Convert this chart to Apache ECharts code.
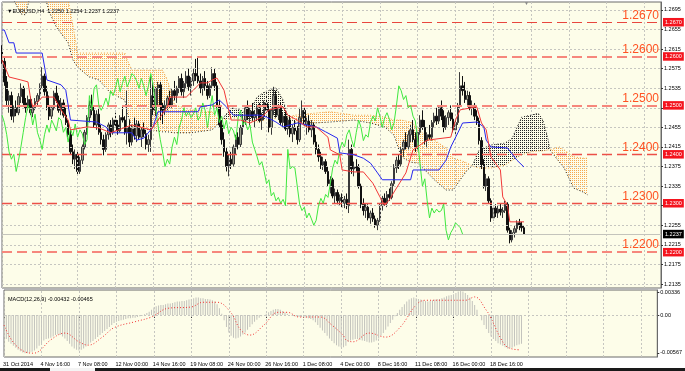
<!DOCTYPE html>
<html><head><meta charset="utf-8">
<script src="https://cdn.jsdelivr.net/npm/echarts@6/dist/echarts.min.js"></script>
<style>html,body{margin:0;padding:0;background:#fff}#c{width:685px;height:371px}</style>
</head><body><div id="c"></div>
<script>
const headerText = '▼EURUSD,H4  1.2250 1.2254 1.2237 1.2237';
const macdText = 'MACD(12,26,9) -0.00432 -0.00465';
const dateLabels = ['31 Oct 2014','4 Nov 16:00','7 Nov 08:00','12 Nov 00:00','14 Nov 16:00','19 Nov 08:00','24 Nov 00:00','26 Nov 16:00','1 Dec 08:00','4 Dec 00:00','8 Dec 16:00','11 Dec 08:00','16 Dec 00:00','18 Dec 16:00'];
const priceTicks = [1.2135,1.2175,1.2215,1.2255,1.2295,1.2335,1.2375,1.2415,1.2455,1.2495,1.2535,1.2575,1.2615,1.2655,1.2695];
const levels = [1.2670,1.2600,1.2500,1.2400,1.2300,1.2200];
const lastPrice = 1.2237;
const macdTicks = [-0.00567,0,0.00336];

const opens = [1.2610,1.2590,1.2548,1.2510,1.2520,1.2478,1.2495,1.2485,1.2518,1.2535,
1.2505,1.2495,1.2512,1.2485,1.2495,1.2508,1.2520,1.2540,1.2560,1.2528,
1.2500,1.2478,1.2495,1.2525,1.2510,1.2490,1.2505,1.2480,1.2465,1.2440,
1.2405,1.2390,1.2400,1.2365,1.2388,1.2415,1.2445,1.2475,1.2500,1.2490,
1.2460,1.2482,1.2445,1.2430,1.2410,1.2440,1.2460,1.2445,1.2470,1.2460,
1.2448,1.2475,1.2470,1.2445,1.2455,1.2425,1.2452,1.2438,1.2462,1.2435,
1.2450,1.2442,1.2420,1.2430,1.2520,1.2490,1.2535,1.2542,1.2500,1.2490,
1.2500,1.2515,1.2500,1.2530,1.2520,1.2535,1.2555,1.2528,1.2545,1.2560,
1.2538,1.2550,1.2565,1.2560,1.2550,1.2535,1.2555,1.2540,1.2520,1.2540,
1.2565,1.2540,1.2500,1.2460,1.2430,1.2405,1.2375,1.2390,1.2380,1.2415,
1.2435,1.2420,1.2455,1.2470,1.2495,1.2478,1.2488,1.2475,1.2482,1.2495,
1.2470,1.2478,1.2505,1.2490,1.2455,1.2490,1.2520,1.2480,1.2495,1.2465,
1.2478,1.2452,1.2470,1.2442,1.2455,1.2448,1.2430,1.2475,1.2490,1.2460,
1.2468,1.2450,1.2460,1.2425,1.2410,1.2395,1.2378,1.2385,1.2365,1.2340,
1.2348,1.2315,1.2322,1.2305,1.2312,1.2300,1.2308,1.2295,1.2410,1.2370,
1.2375,1.2372,1.2335,1.2298,1.2285,1.2292,1.2270,1.2280,1.2268,1.2255,
1.2265,1.2295,1.2310,1.2300,1.2318,1.2312,1.2340,1.2372,1.2388,1.2380,
1.2410,1.2425,1.2415,1.2440,1.2450,1.2430,1.2415,1.2445,1.2470,1.2455,
1.2428,1.2440,1.2435,1.2465,1.2478,1.2468,1.2495,1.2478,1.2455,1.2475,
1.2485,1.2472,1.2450,1.2465,1.2500,1.2540,1.2530,1.2512,1.2520,1.2495,
1.2500,1.2478,1.2468,1.2428,1.2380,1.2335,1.2350,1.2305,1.2270,1.2290,
1.2280,1.2288,1.2282,1.2285,1.2298,1.2245,1.2225,1.2240,1.2248,1.2260,
1.2255,1.2250];
const closes = [1.2590,1.2548,1.2510,1.2520,1.2478,1.2495,1.2485,1.2518,1.2535,1.2505,
1.2495,1.2512,1.2485,1.2495,1.2508,1.2520,1.2540,1.2560,1.2528,1.2500,
1.2478,1.2495,1.2525,1.2510,1.2490,1.2505,1.2480,1.2465,1.2440,1.2405,
1.2390,1.2400,1.2365,1.2388,1.2415,1.2445,1.2475,1.2500,1.2490,1.2460,
1.2482,1.2445,1.2430,1.2410,1.2440,1.2460,1.2445,1.2470,1.2460,1.2448,
1.2475,1.2470,1.2445,1.2455,1.2425,1.2452,1.2438,1.2462,1.2435,1.2450,
1.2442,1.2420,1.2430,1.2520,1.2490,1.2535,1.2542,1.2500,1.2490,1.2500,
1.2515,1.2500,1.2530,1.2520,1.2535,1.2555,1.2528,1.2545,1.2560,1.2538,
1.2550,1.2565,1.2560,1.2550,1.2535,1.2555,1.2540,1.2520,1.2540,1.2565,
1.2540,1.2500,1.2460,1.2430,1.2405,1.2375,1.2390,1.2380,1.2415,1.2435,
1.2420,1.2455,1.2470,1.2495,1.2478,1.2488,1.2475,1.2482,1.2495,1.2470,
1.2478,1.2505,1.2490,1.2455,1.2490,1.2520,1.2480,1.2495,1.2465,1.2478,
1.2452,1.2470,1.2442,1.2455,1.2448,1.2430,1.2475,1.2490,1.2460,1.2468,
1.2450,1.2460,1.2425,1.2410,1.2395,1.2378,1.2385,1.2365,1.2340,1.2348,
1.2315,1.2322,1.2305,1.2312,1.2300,1.2308,1.2295,1.2410,1.2370,1.2375,
1.2372,1.2335,1.2298,1.2285,1.2292,1.2270,1.2280,1.2268,1.2255,1.2265,
1.2295,1.2310,1.2300,1.2318,1.2312,1.2340,1.2372,1.2388,1.2380,1.2410,
1.2425,1.2415,1.2440,1.2450,1.2430,1.2415,1.2445,1.2470,1.2455,1.2428,
1.2440,1.2435,1.2465,1.2478,1.2468,1.2495,1.2478,1.2455,1.2475,1.2485,
1.2472,1.2450,1.2465,1.2500,1.2540,1.2530,1.2512,1.2520,1.2495,1.2500,
1.2478,1.2468,1.2428,1.2380,1.2335,1.2350,1.2305,1.2270,1.2290,1.2280,
1.2288,1.2282,1.2285,1.2298,1.2245,1.2225,1.2240,1.2248,1.2260,1.2255,
1.2250,1.2237];
const highs = [1.2623,1.2600,1.2560,1.2530,1.2528,1.2500,1.2510,1.2525,1.2545,1.2540,
1.2515,1.2520,1.2518,1.2500,1.2515,1.2525,1.2545,1.2578,1.2565,1.2540,
1.2520,1.2500,1.2530,1.2540,1.2520,1.2515,1.2512,1.2495,1.2470,1.2450,
1.2420,1.2410,1.2405,1.2395,1.2420,1.2450,1.2480,1.2510,1.2522,1.2500,
1.2490,1.2495,1.2460,1.2440,1.2445,1.2465,1.2470,1.2475,1.2485,1.2470,
1.2480,1.2500,1.2478,1.2530,1.2470,1.2460,1.2475,1.2470,1.2468,1.2455,
1.2465,1.2450,1.2440,1.2560,1.2548,1.2538,1.2548,1.2548,1.2505,1.2510,
1.2520,1.2530,1.2535,1.2550,1.2540,1.2560,1.2565,1.2550,1.2570,1.2575,
1.2558,1.2575,1.2595,1.2597,1.2565,1.2560,1.2570,1.2550,1.2545,1.2578,
1.2575,1.2548,1.2510,1.2470,1.2445,1.2415,1.2400,1.2405,1.2420,1.2440,
1.2445,1.2460,1.2480,1.2500,1.2510,1.2495,1.2505,1.2490,1.2500,1.2505,
1.2485,1.2510,1.2525,1.2500,1.2495,1.2538,1.2530,1.2500,1.2505,1.2485,
1.2490,1.2475,1.2480,1.2460,1.2470,1.2458,1.2495,1.2510,1.2498,1.2475,
1.2480,1.2470,1.2465,1.2440,1.2420,1.2405,1.2395,1.2390,1.2375,1.2355,
1.2352,1.2330,1.2328,1.2318,1.2320,1.2315,1.2320,1.2430,1.2420,1.2385,
1.2390,1.2380,1.2340,1.2310,1.2300,1.2298,1.2285,1.2290,1.2275,1.2270,
1.2300,1.2315,1.2320,1.2325,1.2330,1.2345,1.2380,1.2395,1.2400,1.2415,
1.2430,1.2445,1.2448,1.2460,1.2470,1.2445,1.2450,1.2480,1.2490,1.2470,
1.2445,1.2460,1.2470,1.2485,1.2495,1.2500,1.2510,1.2490,1.2480,1.2490,
1.2500,1.2485,1.2470,1.2505,1.2568,1.2560,1.2548,1.2530,1.2528,1.2510,
1.2505,1.2490,1.2475,1.2435,1.2390,1.2360,1.2355,1.2310,1.2295,1.2298,
1.2295,1.2300,1.2292,1.2305,1.2302,1.2250,1.2245,1.2255,1.2265,1.2268,
1.2262,1.2254];
const lows = [1.2585,1.2540,1.2500,1.2485,1.2470,1.2465,1.2478,1.2480,1.2505,1.2500,
1.2485,1.2490,1.2480,1.2476,1.2490,1.2500,1.2512,1.2535,1.2520,1.2490,
1.2470,1.2472,1.2490,1.2505,1.2485,1.2480,1.2475,1.2460,1.2435,1.2400,
1.2380,1.2370,1.2358,1.2360,1.2380,1.2410,1.2440,1.2465,1.2480,1.2455,
1.2450,1.2440,1.2420,1.2398,1.2405,1.2430,1.2435,1.2440,1.2455,1.2440,
1.2445,1.2465,1.2440,1.2420,1.2415,1.2418,1.2430,1.2425,1.2430,1.2415,
1.2435,1.2410,1.2405,1.2405,1.2480,1.2478,1.2500,1.2470,1.2462,1.2480,
1.2490,1.2495,1.2495,1.2510,1.2505,1.2525,1.2520,1.2515,1.2535,1.2530,
1.2520,1.2540,1.2550,1.2545,1.2525,1.2520,1.2530,1.2512,1.2515,1.2535,
1.2530,1.2495,1.2455,1.2420,1.2395,1.2365,1.2355,1.2370,1.2375,1.2400,
1.2410,1.2415,1.2440,1.2460,1.2470,1.2460,1.2470,1.2455,1.2470,1.2465,
1.2450,1.2470,1.2485,1.2445,1.2440,1.2480,1.2475,1.2470,1.2460,1.2455,
1.2448,1.2440,1.2435,1.2425,1.2440,1.2420,1.2425,1.2465,1.2455,1.2440,
1.2445,1.2435,1.2420,1.2400,1.2385,1.2370,1.2368,1.2360,1.2335,1.2320,
1.2310,1.2300,1.2298,1.2295,1.2292,1.2290,1.2288,1.2280,1.2360,1.2355,
1.2365,1.2330,1.2290,1.2275,1.2270,1.2265,1.2258,1.2262,1.2250,1.2245,
1.2262,1.2285,1.2295,1.2292,1.2305,1.2308,1.2335,1.2362,1.2370,1.2375,
1.2395,1.2410,1.2410,1.2425,1.2425,1.2405,1.2410,1.2440,1.2450,1.2420,
1.2415,1.2430,1.2428,1.2455,1.2460,1.2462,1.2470,1.2445,1.2450,1.2460,
1.2468,1.2445,1.2440,1.2460,1.2495,1.2520,1.2505,1.2500,1.2490,1.2480,
1.2470,1.2460,1.2420,1.2370,1.2330,1.2325,1.2300,1.2262,1.2265,1.2272,
1.2270,1.2275,1.2270,1.2280,1.2240,1.2218,1.2220,1.2230,1.2240,1.2245,
1.2242,1.2237];

// Ichimoku lines: [bar index, price]
const tenkan = [[0,1.2593],[3,1.2558],[8,1.2552],[11,1.2548],[12,1.2517],[13,1.2497],[16,1.2511],[17,1.2517],[22,1.2517],[25,1.2491],[28,1.2470],[29,1.2450],[36,1.2456],[41,1.2454],[46,1.2444],[55,1.2460],[63,1.2450],[67,1.2476],[70,1.2497],[71,1.2517],[78,1.2517],[81,1.2531],[84,1.2546],[87,1.2546],[89,1.2552],[91,1.2556],[94,1.2531],[97,1.2470],[101,1.2470],[105,1.2464],[110,1.2476],[113,1.2491],[119,1.2497],[121,1.2480],[125,1.2470],[129,1.2456],[133,1.2456],[138,1.2435],[139,1.2409],[143,1.2399],[144,1.2368],[149,1.2364],[153,1.2364],[157,1.2341],[160,1.2313],[162,1.2296],[164,1.2307],[166,1.2323],[171,1.2362],[174,1.2409],[180,1.2429],[190,1.2435],[192,1.2470],[194,1.2491],[201,1.2497],[203,1.2464],[205,1.2450],[207,1.2395],[211,1.2368],[212,1.2313],[214,1.2296],[215,1.2262],[221,1.2262]];
const kijun = [[0,1.2654],[1,1.2654],[3,1.2628],[5,1.2628],[6,1.2607],[17,1.2607],[19,1.2552],[25,1.2542],[27,1.2531],[29,1.2470],[40,1.2466],[44,1.2456],[46,1.2444],[55,1.2444],[57,1.2429],[60,1.2433],[64,1.2456],[66,1.2487],[83,1.2487],[84,1.2497],[89,1.2501],[92,1.2511],[95,1.2497],[98,1.2480],[109,1.2480],[112,1.2476],[116,1.2466],[119,1.2456],[125,1.2464],[133,1.2456],[137,1.2446],[142,1.2433],[143,1.2403],[149,1.2399],[153,1.2392],[156,1.2382],[159,1.2362],[161,1.2348],[173,1.2348],[174,1.2368],[185,1.2368],[188,1.2388],[190,1.2415],[193,1.2444],[195,1.2464],[201,1.2466],[204,1.2456],[205,1.2429],[207,1.2415],[214,1.2413],[218,1.2388],[221,1.2374]];
const chikou = [1.2480,1.2465,1.2440,1.2405,1.2390,1.2400,1.2365,1.2388,1.2415,1.2445,1.2475,1.2500,1.2490,1.2460,1.2482,1.2445,1.2430,1.2410,1.2440,1.2460,1.2445,1.2470,1.2460,1.2448,1.2475,1.2470,1.2445,1.2455,1.2425,1.2452,1.2438,1.2462,1.2435,1.2450,1.2442,1.2420,1.2430,1.2520,1.2490,1.2535,1.2542,1.2500,1.2490,1.2500,1.2515,1.2500,1.2530,1.2520,1.2535,1.2555,1.2528,1.2545,1.2560,1.2538,1.2550,1.2565,1.2560,1.2550,1.2535,1.2555,1.2540,1.2520,1.2540,1.2565,1.2540,1.2500,1.2460,1.2430,1.2405,1.2375,1.2390,1.2380,1.2415,1.2435,1.2420,1.2455,1.2470,1.2495,1.2478,1.2488,1.2475,1.2482,1.2495,1.2470,1.2478,1.2505,1.2490,1.2455,1.2490,1.2520,1.2480,1.2495,1.2465,1.2478,1.2452,1.2470,1.2442,1.2455,1.2448,1.2430,1.2475,1.2490,1.2460,1.2468,1.2450,1.2460,1.2425,1.2410,1.2395,1.2378,1.2385,1.2365,1.2340,1.2348,1.2315,1.2322,1.2305,1.2312,1.2300,1.2308,1.2295,1.2410,1.2370,1.2375,1.2372,1.2335,1.2298,1.2285,1.2292,1.2270,1.2280,1.2268,1.2255,1.2265,1.2295,1.2310,1.2300,1.2318,1.2312,1.2340,1.2372,1.2388,1.2380,1.2410,1.2425,1.2415,1.2440,1.2450,1.2430,1.2415,1.2445,1.2470,1.2455,1.2428,1.2440,1.2435,1.2465,1.2478,1.2468,1.2495,1.2478,1.2455,1.2475,1.2485,1.2472,1.2450,1.2465,1.2500,1.2540,1.2530,1.2512,1.2520,1.2495,1.2500,1.2478,1.2468,1.2428,1.2380,1.2335,1.2350,1.2305,1.2270,1.2290,1.2280,1.2288,1.2282,1.2285,1.2298,1.2245,1.2225,1.2240,1.2248,1.2260,1.2255,1.2250,1.2237];
const cloudIdx = [0,5,8,10,12,18,20,23,28,30,32,37,41,46,52,53,55,68,70,73,80,89,91,93,97,101,104,108,111,116,119,121,124,132,139,149,156,162,166,169,173,176,179,183,188,191,194,197,199,202,207,213,216,220,224,227,229,231,232,236,238,242,246,248];
const senkouA = [1.2797,1.2777,1.2777,1.2777,1.2777,1.2777,1.2767,1.2756,1.2715,1.2664,1.2607,1.2607,1.2607,1.2607,1.2607,1.2593,1.2572,1.2572,1.2552,1.2501,1.2491,1.2487,1.2474,1.2470,1.2474,1.2474,1.2470,1.2466,1.2470,1.2474,1.2476,1.2476,1.2480,1.2484,1.2487,1.2480,1.2480,1.2476,1.2470,1.2470,1.2466,1.2454,1.2439,1.2429,1.2413,1.2392,1.2388,1.2382,1.2376,1.2372,1.2372,1.2378,1.2388,1.2399,1.2405,1.2407,1.2407,1.2409,1.2409,1.2415,1.2409,1.2395,1.2392,1.2392];
const senkouB = [1.2756,1.2715,1.2687,1.2685,1.2726,1.2726,1.2691,1.2660,1.2628,1.2593,1.2578,1.2558,1.2552,1.2525,1.2511,1.2484,1.2456,1.2446,1.2446,1.2444,1.2444,1.2450,1.2460,1.2470,1.2495,1.2491,1.2480,1.2517,1.2527,1.2536,1.2511,1.2476,1.2466,1.2464,1.2466,1.2470,1.2464,1.2456,1.2439,1.2395,1.2384,1.2382,1.2368,1.2348,1.2327,1.2327,1.2348,1.2368,1.2376,1.2409,1.2419,1.2423,1.2433,1.2476,1.2480,1.2484,1.2470,1.2435,1.2409,1.2384,1.2372,1.2331,1.2323,1.2317];

const macdHist = [-0.0032,-0.0036,-0.0040,
-0.0043,-0.0046,-0.0049,-0.0052,-0.0054,
-0.0056,-0.0057,-0.0057,-0.0056,-0.0055,-0.0053,-0.0050,
-0.0046,-0.0042,-0.0038,-0.0036,-0.0035,-0.0034,
-0.0032,-0.0030,-0.0029,-0.0030,-0.0032,-0.0035,
-0.0039,-0.0043,-0.0047,-0.0050,-0.0052,-0.0053,-0.0052,
-0.0050,-0.0047,-0.0044,-0.0041,-0.0039,-0.0036,-0.0033,-0.0030,
-0.0027,-0.0024,-0.0021,-0.0018,-0.0015,-0.0012,-0.0010,-0.0009,-0.0008,
-0.0007,-0.0006,-0.0005,-0.0005,-0.0004,-0.0004,-0.0003,-0.0002,
-0.0001,0.0001,0.0003,0.0005,0.0008,0.0011,
0.0013,0.0014,0.0015,0.0015,0.0016,0.0017,0.0017,0.0018,0.0019,
0.0020,0.0020,0.0021,0.0021,0.0022,0.0023,
0.0024,0.0025,0.0026,0.0026,0.0025,0.0025,0.0024,
0.0024,0.0023,0.0022,0.0020,0.0016,0.0010,
0.0002,-0.0008,-0.0018,-0.0026,
-0.0031,-0.0034,-0.0035,-0.0034,-0.0032,-0.0029,-0.0026,
-0.0022,-0.0018,-0.0014,-0.0010,
-0.0007,-0.0004,-0.0002,0.0000,0.0002,0.0004,
0.0006,0.0008,0.0009,0.0009,0.0008,0.0006,0.0004,
0.0002,0.0000,-0.0001,-0.0002,-0.0002,-0.0003,
-0.0003,-0.0004,-0.0004,-0.0005,-0.0006,-0.0008,-0.0011,-0.0015,
-0.0019,-0.0023,-0.0027,-0.0031,-0.0035,-0.0039,-0.0042,-0.0045,-0.0047,
-0.0048,-0.0048,-0.0046,-0.0040,-0.0038,-0.0037,
-0.0036,-0.0036,-0.0037,-0.0038,-0.0039,-0.0040,-0.0041,-0.0041,-0.0040,-0.0038,-0.0035,-0.0031,-0.0027,
-0.0022,-0.0017,-0.0012,-0.0007,
-0.0002,0.0003,0.0008,0.0012,
0.0016,0.0020,0.0023,0.0025,0.0026,0.0025,
0.0024,0.0023,0.0022,0.0021,0.0020,0.0021,0.0022,0.0023,0.0024,0.0024,0.0025,0.0026,0.0028,0.0029,0.0030,
0.0031,0.0033,0.0035,0.0036,0.0035,0.0033,0.0030,0.0026,0.0021,
0.0015,0.0008,0.0000,-0.0008,
-0.0015,-0.0021,-0.0027,-0.0032,-0.0036,-0.0039,
-0.0042,-0.0044,-0.0046,-0.0048,-0.0050,-0.0050,-0.0049,-0.0047,-0.0045,
-0.0044,-0.0043];
const macdSignal = [[0,-0.0015],[5,-0.0045],[12,-0.0057],[14,-0.0056],[20,-0.0037],[26,-0.0027],[32,-0.0040],[36,-0.0045],[42,-0.0033],[47,-0.0019],[56,-0.0010],[63,-0.0003],[70,0.0010],[80,0.0012],[85,0.0019],[91,0.0019],[97,0.0003],[101,-0.0022],[105,-0.0030],[111,-0.0015],[117,0.0004],[121,0.0004],[126,-0.0003],[135,-0.0003],[140,-0.0015],[145,-0.0031],[146,-0.0037],[149,-0.0040],[156,-0.0027],[163,-0.0033],[169,-0.0019],[176,0.0015],[180,0.0022],[197,0.0022],[201,0.0027],[206,0.0007],[208,-0.0005],[212,-0.0034],[215,-0.0048],[220,-0.0052]];

// ---------- build ----------
const NCAT = 280;
const cats = Array.from({length: NCAT}, (_, i) => i);
const vGrid = Array.from({length: 18}, (_, k) => k * 16);
const labelFont = 'Liberation Sans';
function dotPattern(color) {
  const c = document.createElement('canvas');
  c.width = 2; c.height = 2;
  const g = c.getContext('2d');
  g.fillStyle = color;
  g.fillRect(0, 0, 1, 1);
  return c;
}
const orangeFill = {image: dotPattern('#f7a850'), repeat: 'repeat'};
const blackFill = {image: dotPattern('#222222'), repeat: 'repeat'};

const levelStyle = {
  '1.2670': {color: '#e8463e', width: 1, type: [10, 5]},
  '1.2600': {color: '#f6877c', width: 2, type: [10, 5]},
  '1.2500': {color: '#f6877c', width: 2, type: [10, 5]},
  '1.2400': {color: '#ec5048', width: 1.3, type: [10, 5]},
  '1.2300': {color: '#ec5048', width: 1.3, type: [10, 5]},
  '1.2200': {color: '#f6877c', width: 2, type: [10, 5]}
};
const levelMarks = [];
levels.forEach(v => {
  const key = v.toFixed(4);
  levelMarks.push({yAxis: v, lineStyle: levelStyle[key], label: {show: true, position: 'insideEndTop', formatter: key, color: '#ff5222', fontSize: 12, fontFamily: labelFont, distance: [2, 1]}});
});
levelMarks.push({yAxis: lastPrice, lineStyle: {color: '#c4c4bc', width: 1, type: 'solid'}, label: {show: true, position: 'end', formatter: lastPrice.toFixed(4), color: '#fff', backgroundColor: '#000', fontSize: 5.5, fontFamily: labelFont, padding: [1.5, 2, 1, 2], distance: 2}});
const boxMarks = levels.map(v => ({yAxis: v, label: {show: true, position: 'end', formatter: v.toFixed(4), color: '#fff', backgroundColor: '#f4141e', fontSize: 5.5, fontFamily: labelFont, padding: [1.5, 2, 1, 2], distance: 2}}));

const gridMarks = priceTicks.map(v => ({yAxis: v})).concat(vGrid.map(x => ({xAxis: x})));
const macdGridMarks = [{yAxis: 0}].concat(vGrid.map(x => ({xAxis: x})));

const chart = echarts.init(document.getElementById('c'), null, {renderer: 'canvas'});
const labelInterval = (idx) => idx % 16 === 0 && idx / 16 < dateLabels.length;

chart.setOption({
  animation: false,
  backgroundColor: '#ffffff',
  title: [
    {text: headerText, left: 2, top: 3, textStyle: {fontSize: 5.5, fontWeight: 'normal', color: '#000', fontFamily: labelFont}},
    {text: macdText, left: 3, top: 291, textStyle: {fontSize: 5.5, fontWeight: 'normal', color: '#000', fontFamily: labelFont}}
  ],
  grid: [
    {left: 2, right: 24, top: 2, height: 286, show: true, backgroundColor: '#fdfde9', borderColor: '#6a6a6a', borderWidth: 1},
    {left: 2, right: 24, top: 290, height: 67, show: true, backgroundColor: '#fdfde9', borderColor: '#6a6a6a', borderWidth: 1}
  ],
  xAxis: [
    {type: 'category', gridIndex: 0, data: cats, boundaryGap: false, axisLine: {show: false}, axisTick: {show: false}, axisLabel: {show: false}, splitLine: {show: false}},
    {type: 'category', gridIndex: 1, data: cats, boundaryGap: false, axisLine: {show: false},
     axisTick: {show: true, interval: labelInterval, length: 3, lineStyle: {color: '#333'}},
     axisLabel: {show: true, interval: labelInterval, formatter: (v, i) => dateLabels[i / 16] || '', fontSize: 5.5, fontFamily: labelFont, color: '#000', align: 'left', margin: 4, padding: [0, 0, 0, -1]},
     splitLine: {show: false}}
  ],
  yAxis: [
    {type: 'value', gridIndex: 0, position: 'right', min: 1.21268, max: 1.27113,
     axisLine: {show: true, lineStyle: {color: '#6a6a6a'}},
     axisTick: {show: true, length: 2, customValues: priceTicks, lineStyle: {color: '#333'}},
     axisLabel: {show: true, customValues: priceTicks, formatter: v => v.toFixed(4), fontSize: 5.5, fontFamily: labelFont, color: '#000', margin: 3},
     splitLine: {show: false}},
    {type: 'value', gridIndex: 1, position: 'right', min: -0.00627, max: 0.00373,
     axisLine: {show: true, lineStyle: {color: '#6a6a6a'}},
     axisTick: {show: true, length: 2, customValues: macdTicks, lineStyle: {color: '#333'}},
     axisLabel: {show: true, customValues: macdTicks, formatter: v => (v === 0 ? '0.00' : v.toFixed(5)), fontSize: 5.5, fontFamily: labelFont, color: '#000', margin: 3},
     splitLine: {show: false}}
  ],
  series: [
    {name: 'grid', type: 'line', xAxisIndex: 0, yAxisIndex: 0, data: [], silent: true, z: 1,
     markLine: {silent: true, precision: 6, symbol: ['none', 'none'], animation: false, label: {show: false},
       lineStyle: {color: '#c6c6c0', type: [2, 2], width: 1}, data: gridMarks}},
    {name: 'kumo', type: 'custom', xAxisIndex: 0, yAxisIndex: 0, clip: true, silent: true, z: 2,
     data: cloudIdx.map((x, k) => [x, senkouA[k], senkouB[k]]),
     encode: {x: 0, y: [1, 2]},
     renderItem: (params, api) => {
       const k = params.dataIndex;
       if (k >= cloudIdx.length - 1) return null;
       const a0 = api.coord([cloudIdx[k], senkouA[k]]), a1 = api.coord([cloudIdx[k + 1], senkouA[k + 1]]);
       const b0 = api.coord([cloudIdx[k], senkouB[k]]), b1 = api.coord([cloudIdx[k + 1], senkouB[k + 1]]);
       const d0 = senkouA[k] - senkouB[k], d1 = senkouA[k + 1] - senkouB[k + 1];
       const polys = [];
       const fillFor = d => (d >= 0 ? orangeFill : blackFill);
       if (d0 * d1 < 0) {
         const t = d0 / (d0 - d1);
         const c = [a0[0] + (a1[0] - a0[0]) * t, a0[1] + (a1[1] - a0[1]) * t];
         polys.push({type: 'polygon', shape: {points: [a0, c, b0]}, style: {fill: fillFor(d0)}});
         polys.push({type: 'polygon', shape: {points: [c, a1, b1]}, style: {fill: fillFor(d1)}});
       } else {
         polys.push({type: 'polygon', shape: {points: [a0, a1, b1, b0]}, style: {fill: fillFor(d0 + d1)}});
       }
       return {type: 'group', children: polys};
     }},
    {name: 'Senkou A', type: 'line', xAxisIndex: 0, yAxisIndex: 0, z: 3, showSymbol: false, silent: true,
     data: cloudIdx.map((x, k) => [x, senkouA[k]]), lineStyle: {color: '#f09a35', width: 1, type: [1, 2]}},
    {name: 'Senkou B', type: 'line', xAxisIndex: 0, yAxisIndex: 0, z: 3, showSymbol: false, silent: true,
     data: cloudIdx.map((x, k) => [x, senkouB[k]]), lineStyle: {color: '#1e1e1e', width: 1, type: [1, 2]}},
    {name: 'EURUSD', type: 'candlestick', xAxisIndex: 0, yAxisIndex: 0, z: 4, barWidth: 2,
     data: opens.map((o, i) => [o, closes[i], lows[i], highs[i]]),
     itemStyle: {color: '#9a9a8a', color0: '#111111', borderColor: '#3a3a3a', borderColor0: '#111111', borderWidth: 1}},
    {name: 'Chikou', type: 'line', xAxisIndex: 0, yAxisIndex: 0, z: 5, showSymbol: false, silent: true,
     data: chikou, lineStyle: {color: '#3fe83f', width: 1}},
    {name: 'Kijun', type: 'line', xAxisIndex: 0, yAxisIndex: 0, z: 5, showSymbol: false, silent: true,
     data: kijun, lineStyle: {color: '#2626ee', width: 1}},
    {name: 'Tenkan', type: 'line', xAxisIndex: 0, yAxisIndex: 0, z: 5, showSymbol: false, silent: true,
     data: tenkan, lineStyle: {color: '#f23838', width: 1}},
    {name: 'levels', type: 'line', xAxisIndex: 0, yAxisIndex: 0, data: [], silent: true, z: 6,
     markLine: {silent: true, precision: 6, symbol: ['none', 'none'], animation: false, data: levelMarks}},
    {name: 'levelBoxes', type: 'line', xAxisIndex: 0, yAxisIndex: 0, data: [], silent: true, z: 7,
     markLine: {silent: true, precision: 6, symbol: ['none', 'none'], animation: false,
       lineStyle: {color: 'rgba(0,0,0,0)', width: 0}, data: boxMarks}},
    {name: 'macdgrid', type: 'line', xAxisIndex: 1, yAxisIndex: 1, data: [], silent: true, z: 1,
     markLine: {silent: true, precision: 6, symbol: ['none', 'none'], animation: false, label: {show: false},
       lineStyle: {color: '#c6c6c0', type: [2, 2], width: 1}, data: macdGridMarks}},
    {name: 'MACD', type: 'bar', xAxisIndex: 1, yAxisIndex: 1, z: 3, barWidth: 1, silent: true,
     data: macdHist, itemStyle: {color: '#c2c2bc'}},
    {name: 'Signal', type: 'line', xAxisIndex: 1, yAxisIndex: 1, z: 4, showSymbol: false, silent: true, smooth: 0.4,
     data: macdSignal, lineStyle: {color: '#f23232', width: 1, type: [1, 2]}}
  ],
  graphic: [
    {type: 'rect', left: 0, top: 368, shape: {width: 685, height: 3}, style: {fill: '#1a1a1a'}, silent: true},
    {type: 'rect', left: 50, top: 368, shape: {width: 45, height: 3}, style: {fill: '#f4f4f4'}, silent: true},
    {type: 'text', left: 524, top: 1, style: {text: '▼', fontSize: 5, fill: '#888'}, silent: true}
  ]
});
</script>
</body></html>
